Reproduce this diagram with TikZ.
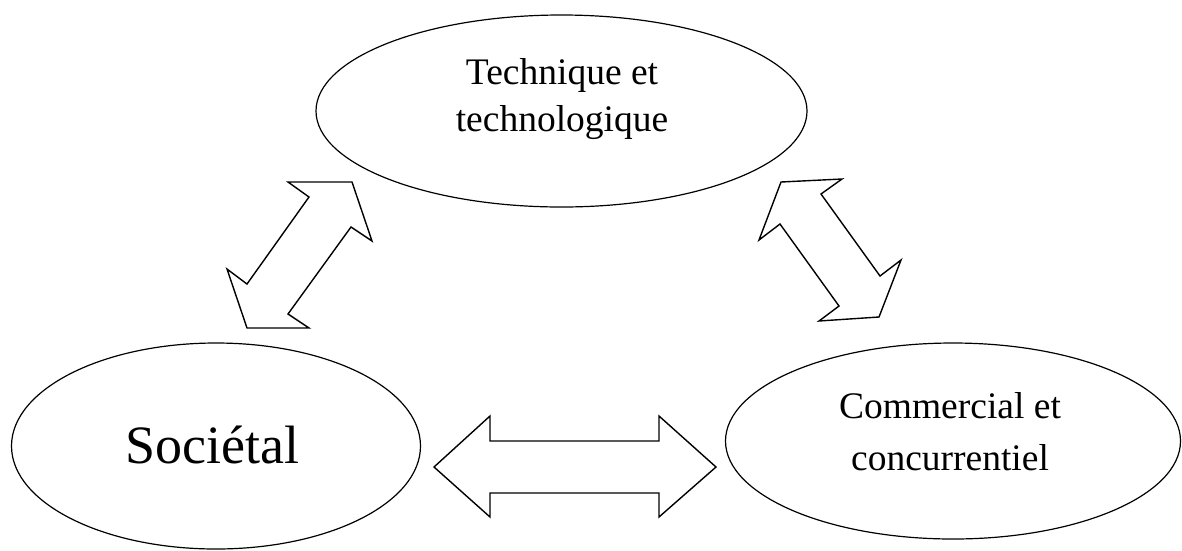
\documentclass[tikz,border=0pt]{standalone}
\usepackage{fontspec}
\setmainfont{Liberation Serif}
\usetikzlibrary{shapes.geometric}
\begin{document}
\begin{tikzpicture}[x=1pt,y=-1pt,
  oval/.style={draw=black, line width=1.2pt, ellipse, inner sep=0pt},
  bigarrow/.style={draw=black, line width=1.4pt, line join=miter, fill=white},
  lbl/.style={align=center, inner sep=0pt, font=\fontsize{37.5}{47}\selectfont}]
\useasboundingbox (0,0) rectangle (1182,550);
% ellipses
\node[oval, minimum width=491pt, minimum height=192pt] (tech) at (561.5,111) {};
\node[oval, minimum width=409pt, minimum height=206pt] (soc) at (216,446) {};
\node[oval, minimum width=455pt, minimum height=196pt] (com) at (953,441) {};
% texts
\node[lbl] (techtxt) at (562,99) {Technique et\\technologique};
\node[lbl, font=\fontsize{37.5}{52}\selectfont] (comtxt) at (950,432) {Commercial et\\concurrentiel};
\node[inner sep=0pt, font=\fontsize{54}{60}\selectfont] (soctxt) at (212,445) {Sociétal};
% left diagonal double arrow
\draw[bigarrow] (288,182) -- (352,182) -- (372,241) -- (351,227) -- (288,314) -- (309,328)
  -- (247,328) -- (227,269) -- (247,284) -- (309,197) -- cycle;
% right diagonal double arrow
\draw[bigarrow] (781,182) -- (842,179) -- (821,194) -- (880,276) -- (901,260) -- (879,317)
  -- (819,321) -- (839,306) -- (780,224) -- (759,240) -- cycle;
% horizontal double arrow
\draw[bigarrow] (434,467) -- (490,416) -- (490,441) -- (659,441) -- (659,416) -- (716,467)
  -- (659,517) -- (659,493) -- (490,493) -- (490,517) -- cycle;
\end{tikzpicture}
\end{document}
